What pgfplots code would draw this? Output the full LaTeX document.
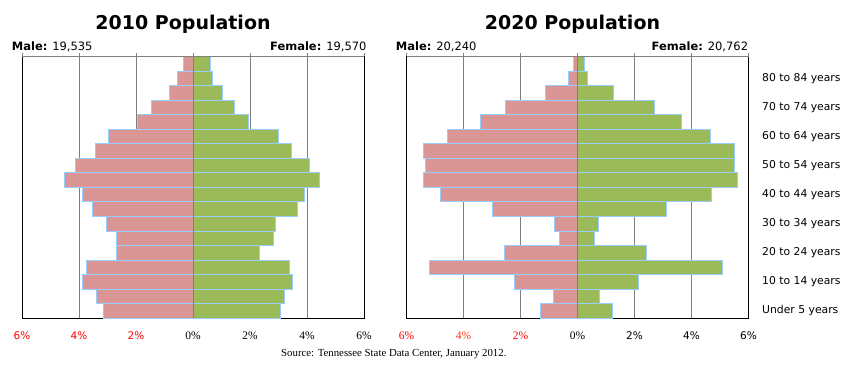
\documentclass[border=0pt]{standalone}
\usepackage{pgfplots}
\pgfplotsset{compat=1.18}
\usepackage{pgfplotstable}
\usepackage{fontspec}
\setmainfont{DejaVu Sans}
\newfontfamily\serif{Liberation Serif}
\definecolor{malec}{HTML}{D99694}
\definecolor{femc}{HTML}{9BBB59}
\definecolor{edgec}{HTML}{99CCFF}
\definecolor{gridc}{HTML}{808080}
\definecolor{orred}{HTML}{FF3A10}

\pgfplotstableread{
idx m2010 f2010 m2020 f2020
17 0.32 0.60 0.13 0.25
16 0.56 0.70 0.32 0.35
15 0.84 1.02 1.14 1.26
14 1.44 1.47 2.51 2.70
13 1.96 1.96 3.42 3.65
12 2.96 3.01 4.55 4.67
11 3.42 3.47 5.39 5.51
10 4.12 4.10 5.35 5.51
9  4.52 4.45 5.39 5.61
8  3.89 3.92 4.79 4.70
7  3.54 3.68 2.98 3.12
6  3.05 2.89 0.81 0.74
5  2.70 2.82 0.62 0.60
4  2.70 2.35 2.55 2.42
3  3.75 3.40 5.18 5.07
2  3.89 3.50 2.21 2.14
1  3.40 3.22 0.84 0.77
0  3.15 3.08 1.30 1.23
}\pop

\pgfplotsset{pyr/.style={
  scale only axis, width=342pt, height=261pt,
  anchor=south west,
  xmin=-6, xmax=6, ymin=-0.5, ymax=17.5,
  xtick={-6,-4,-2,0,2,4,6},
  xtick pos=upper, xticklabel pos=lower,
  tick align=outside, major tick length=3.5pt,
  x tick style={draw=gridc, line width=0.9pt},
  xmajorgrids, major grid style={draw=gridc, line width=0.9pt},
  axis line style={black, line width=1pt},
  xticklabel style={font=\fontsize{10.5}{12}\selectfont, anchor=center, yshift=-14.5pt},
  clip=false,
}}
\pgfplotsset{pbar/.style={xbar, bar width=1, bar shift=0pt, draw=edgec, line width=1pt}}
\newcommand{\sr}{\serif\fontsize{11.5}{13}\selectfont}

\begin{document}
\begin{tikzpicture}[x=1pt,y=1pt]
\path[use as bounding box] (0,0) rectangle (851,367);

\begin{axis}[pyr, at={(22pt,49pt)}, ytick=\empty,
  xticklabels={\textcolor{red}{6\%}, \textcolor{red}{4\%}, \textcolor{red}{2\%}, {\sr 0\%}, {\sr 2\%}, {\sr 4\%}, {\sr 6\%}}]
\addplot[pbar, fill=malec] table[x expr=-\thisrow{m2010}, y=idx] {\pop};
\addplot[pbar, fill=femc] table[x=f2010, y=idx] {\pop};
\draw[gridc, line width=0.9pt] (axis cs:0,-0.5) -- (axis cs:0,17.5);
\draw[gridc, line width=1pt] (rel axis cs:0,1) -- (rel axis cs:1,1);
\end{axis}

\begin{axis}[pyr, at={(406.5pt,49pt)},
  xticklabels={{\sr\textcolor{red}{6\%}}, {\sr\textcolor{orred}{4\%}}, {\sr\textcolor{red}{2\%}}, {\sr 0\%}, 2\%, 4\%, 6\%},
  ytick={0,2,...,16}, ytick pos=right, yticklabel pos=right,
  y tick style={draw=none},
  yticklabel style={font=\fontsize{10.8}{13}\selectfont, anchor=west, inner sep=0pt, xshift=10pt},
  yticklabels={Under 5 years, 10 to 14 years, 20 to 24 years, 30 to 34 years, 40 to 44 years, 50 to 54 years, 60 to 64 years, 70 to 74 years, 80 to 84 years}]
\addplot[pbar, fill=malec] table[x expr=-\thisrow{m2020}, y=idx] {\pop};
\addplot[pbar, fill=femc] table[x=f2020, y=idx] {\pop};
\draw[gridc, line width=0.9pt] (axis cs:0,-0.5) -- (axis cs:0,17.5);
\draw[gridc, line width=1pt] (rel axis cs:0,1) -- (rel axis cs:1,1);
\end{axis}

\node[anchor=base, font=\fontsize{19}{22}\selectfont\bfseries] at (183,337) {2010 Population};
\node[anchor=base, font=\fontsize{19}{22}\selectfont\bfseries] at (572.5,337) {2020 Population};
\node[anchor=base west, inner sep=0pt, font=\fontsize{11.5}{13}\selectfont] at (11.7,316.3) {\textbf{Male:} 19,535};
\node[anchor=base east, inner sep=0pt, font=\fontsize{11.5}{13}\selectfont] at (366.7,316.3) {\textbf{Female:} 19,570};
\node[anchor=base west, inner sep=0pt, font=\fontsize{11.5}{13}\selectfont] at (395.7,316.3) {\textbf{Male:} 20,240};
\node[anchor=base east, inner sep=0pt, font=\fontsize{11.5}{13}\selectfont] at (748.3,316.3) {\textbf{Female:} 20,762};
\node[anchor=base west, inner sep=0pt, font=\serif\fontsize{10.8}{12}\selectfont] at (281,10.3) {Source: Tennessee State Data Center, January 2012.};
\end{tikzpicture}
\end{document}
